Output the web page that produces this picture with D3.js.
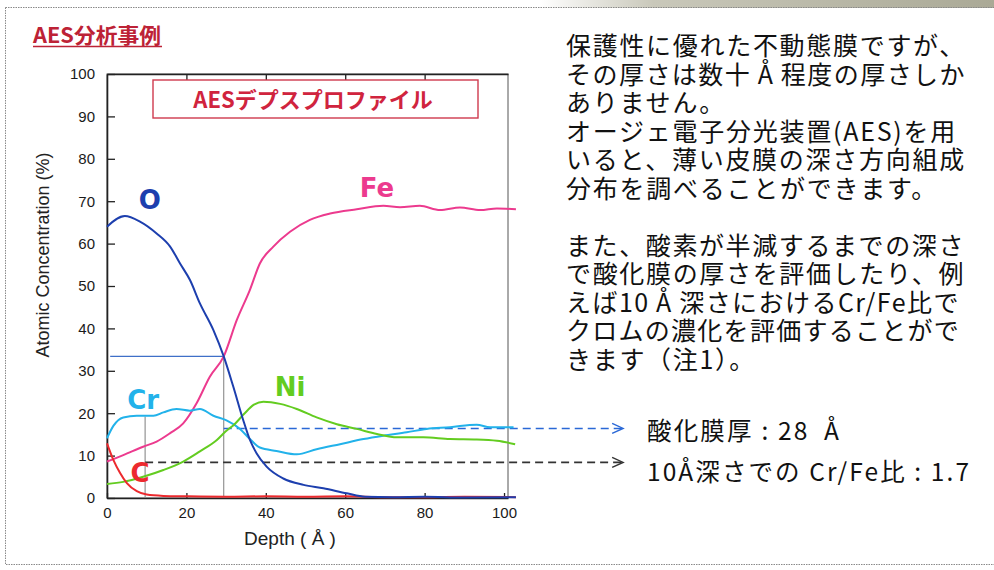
<!DOCTYPE html>
<html lang="ja">
<head>
<meta charset="utf-8">
<title>AES分析事例</title>
<script src="https://cdn.jsdelivr.net/npm/d3@7"></script>
<style>
  html, body { margin: 0; padding: 0; background: #fff; }
  #chart { position: relative; width: 994px; height: 570px; }
  svg { display: block; }
  .notes { position: absolute; left: 566px; top: 30px; color: #111;
           font-family: "Noto Sans CJK JP", "Noto Sans", sans-serif; font-size: 25px; }
  .notes div { height: 28.5px; line-height: 28.5px; white-space: nowrap; }
</style>
</head>
<body>
<div id="chart"></div>
<script>
// Depth (Å) and atomic concentration (%)
const depthO  = [0, 4.5, 8.3, 12.5, 15.9, 18.4, 20.9, 23.4, 26.8, 29.4, 31.8, 34.3, 36, 37.7, 40.2, 44.4, 49.5, 54.5, 60.4, 65, 72, 80, 90, 103];
const valueO  = [64, 66.5, 65.2, 62.4, 59.3, 55.3, 51.4, 45.9, 39.6, 33.4, 26.3, 18.4, 13.7, 10.5, 7.4, 4.6, 3.1, 2.3, 1.1, 0.3, 0.2, 0.3, 0.1, 0.2];

const depthFe = [0, 4.1, 9.1, 12.5, 15.9, 19.2, 22.6, 25.9, 29.4, 32.7, 36, 38.5, 41.9, 46.1, 51.1, 56.2, 62.9, 69.6, 73.8, 78.8, 83.9, 88.9, 94, 98.2, 103];
const valueFe = [8.6, 10.1, 12.1, 13.3, 15.3, 17.6, 22.4, 28.6, 33.4, 42, 49.1, 55.3, 59.3, 62.8, 65.6, 67.1, 68.1, 68.9, 68.6, 68.9, 67.9, 68.5, 67.9, 68.3, 68.1];

const depthCr = [0, 1.6, 4.1, 7.5, 11.7, 14.2, 17.5, 20.9, 23.4, 26.8, 30.1, 33.5, 36, 38.5, 42.7, 47.8, 52.8, 58.7, 64.6, 69.6, 75.5, 80.5, 86.4, 93.1, 96.5, 102.4];
const valueCr = [14.1, 17, 19, 19.4, 19.4, 20.2, 21, 20.6, 21, 19.4, 18.3, 16.3, 13.9, 11.9, 11.1, 10.3, 11.5, 12.7, 13.9, 14.7, 15.5, 16.3, 16.7, 17.3, 16.7, 16.7];

const depthNi = [0, 4.1, 9.1, 14.2, 19.2, 23.4, 27.6, 30, 32, 34.5, 37, 39.4, 43.6, 47.8, 52.8, 57.9, 62.9, 68, 73, 79.7, 86.4, 93.1, 98.2, 102.8];
const valueNi = [3.3, 3.8, 5, 6.6, 8.6, 11, 13.6, 15.8, 17.3, 19.8, 22, 22.7, 22.2, 21, 19, 17.4, 16.3, 15.1, 14.3, 14.3, 13.9, 13.8, 13.5, 12.7];

const depthC  = [0, 1.6, 3.3, 5, 7.5, 10, 14.2, 20, 30, 40, 50, 60, 70, 80, 90, 103];
const valueC  = [12.9, 9, 5.9, 3.5, 1.6, 0.8, 0.5, 0.4, 0.3, 0.4, 0.3, 0.4, 0.2, 0.2, 0.3, 0.2];

const seriesNames  = ['Fe', 'Cr', 'Ni', 'C', 'O'];
const seriesColors = ['#ec3a8e', '#22b2ea', '#63cc20', '#ec2a2e', '#1d3fae'];
// label anchor (depth, %) for each element name
const labelDepth = [68, 9.1, 46.1, 8.3, 10.8];
const labelValue = [73.1, 23.1, 26.2, 5.9, 70.3];

const yTicks = d3.range(0, 101, 10);
const xTicks = [0, 20, 40, 60, 80, 100];
const topTicks = [20, 40, 60, 80];

// evaluation markers
const halfODepth = 29.4;      // depth where O falls to half
const halfOValue = 33.4;
const ratioDepth = 9.6;       // 10 Å depth used for Cr/Fe
const ratioCrValue = 19.2;
const thicknessLevel = 16.4;  // blue dashed guide
const ratioLevel = 8.4;       // black dashed guide
const arrowEndDepth = 130;

const noteLines = [
  '保護性に優れた不動態膜ですが、',
  'その厚さは数十\u2009Å\u2009程度の厚さしか',
  'ありません。',
  'オージェ電子分光装置(AES)を用',
  'いると、薄い皮膜の深さ方向組成',
  '分布を調べることができます。',
  '',
  'また、酸素が半減するまでの深さ',
  'で酸化膜の厚さを評価したり、例',
  'えば10\u2009Å\u2009深さにおけるCr/Fe比で',
  'クロムの濃化を評価することがで',
  'きます（注1）。'
];
// line widths in the scan, px
const noteWidths = [400, 400, 160, 391, 400, 372, 0, 399, 399, 394, 394, 190];
const resultLines = ['酸化膜厚 : 28\u2002Å', '10Å深さでの Cr/Fe比 : 1.7'];
const resultWidths = [192, 322];

class AesDepthProfile {
  constructor(containerId) {
    this.containerId = containerId;
    this.width = 994;
    this.height = 570;
    this.x = d3.scaleLinear().domain([0, 101]).range([107, 508]);
    this.y = d3.scaleLinear().domain([0, 100]).range([498, 74]);
  }

  init() {
    this.container = d3.select(`#${this.containerId}`);
    this.svg = this.container
      .append('svg')
      .attr('width', this.width)
      .attr('height', this.height);

    const defs = this.svg.append('defs');
    const grad = defs.append('linearGradient').attr('id', 'scanEdge');
    grad.append('stop').attr('offset', '0%').attr('stop-color', '#fff');
    grad.append('stop').attr('offset', '25%').attr('stop-color', '#c9c8ba');
    grad.append('stop').attr('offset', '100%').attr('stop-color', '#aaa996');
  }

  render() {
    const { x, y, svg } = this;
    const jp = '"Noto Sans CJK JP", "Noto Sans", sans-serif';
    const arial = '"Liberation Sans", Arial, sans-serif';

    // scan edge + dotted frame
    svg.append('rect').attr('x', 540).attr('y', 0).attr('width', 454).attr('height', 8)
      .attr('fill', 'url(#scanEdge)');
    svg.append('rect').attr('x', 5.5).attr('y', 7.5).attr('width', 1000).attr('height', 557)
      .attr('fill', 'none').attr('stroke', '#8a8a8a').attr('stroke-width', 1)
      .attr('stroke-dasharray', '1.5,1');

    // heading
    svg.append('text').attr('x', 33).attr('y', 43)
      .attr('textLength', 128).attr('lengthAdjust', 'spacingAndGlyphs')
      .style('font-family', jp).style('font-size', '21px').style('font-weight', 700)
      .style('fill', '#bd2236').text('AES分析事例');
    svg.append('line').attr('x1', 33).attr('x2', 162).attr('y1', 46.5).attr('y2', 46.5)
      .attr('stroke', '#bd2236').attr('stroke-width', 1.6);

    // plot frame
    svg.append('rect')
      .attr('x', x(0)).attr('y', y(100))
      .attr('width', x(101) - x(0)).attr('height', y(0) - y(100))
      .attr('fill', 'none').attr('stroke', '#555').attr('stroke-width', 1);

    const yAxis = svg.append('g').attr('transform', `translate(${x(0)},0)`)
      .call(d3.axisLeft(y).tickValues(yTicks).tickSize(-8).tickSizeOuter(0).tickPadding(12));
    const xAxis = svg.append('g').attr('transform', `translate(0,${y(0)})`)
      .call(d3.axisBottom(x).tickValues(xTicks).tickSize(-5).tickSizeOuter(0).tickPadding(9));
    svg.append('g').attr('transform', `translate(0,${y(100)})`)
      .call(d3.axisTop(x).tickValues(topTicks).tickSize(-6).tickSizeOuter(0).tickFormat(''));

    svg.selectAll('.domain').attr('stroke', '#222').attr('stroke-width', 1.6);
    svg.selectAll('.tick line').attr('stroke', '#222').attr('stroke-width', 1.3);
    [yAxis, xAxis].forEach(g => g.selectAll('text')
      .style('font-family', arial)
      .style('font-size', '15px').style('fill', '#1a1a1a'));

    svg.append('text')
      .attr('transform', 'translate(49,255) rotate(-90)')
      .attr('text-anchor', 'middle')
      .style('font-family', arial)
      .style('font-size', '18px').style('fill', '#222')
      .text('Atomic Concentration (%)');
    svg.append('text').attr('x', 290).attr('y', 545).attr('text-anchor', 'middle')
      .style('font-family', arial)
      .style('font-size', '19px').style('fill', '#222')
      .text('Depth ( Å )');

    // inner title box
    svg.append('rect').attr('x', 153).attr('y', 80).attr('width', 325).attr('height', 38)
      .attr('fill', '#fff').attr('stroke', '#cf3a4e').attr('stroke-width', 1.4);
    svg.append('text').attr('x', 313).attr('y', 108).attr('text-anchor', 'middle')
      .style('font-family', jp).style('font-size', '22px').style('font-weight', 700)
      .style('fill', '#d0243e').text('AESデプスプロファイル');

    // guide lines
    const guides = svg.append('g');
    guides.append('line')
      .attr('x1', x(0.8)).attr('x2', x(halfODepth))
      .attr('y1', y(halfOValue)).attr('y2', y(halfOValue))
      .attr('stroke', '#3f6fc8').attr('stroke-width', 1.2);
    guides.append('line')
      .attr('x1', x(halfODepth)).attr('x2', x(halfODepth))
      .attr('y1', y(halfOValue)).attr('y2', y(0))
      .attr('stroke', '#8a8a8a').attr('stroke-width', 1.1);
    guides.append('line')
      .attr('x1', x(ratioDepth)).attr('x2', x(ratioDepth))
      .attr('y1', y(ratioCrValue)).attr('y2', y(0))
      .attr('stroke', '#8a8a8a').attr('stroke-width', 1.1);

    const dashed = [
      { from: halfODepth, level: thicknessLevel, color: '#2a68d6' },
      { from: ratioDepth, level: ratioLevel, color: '#333' }
    ];
    dashed.forEach(d => {
      guides.append('line')
        .attr('x1', x(d.from)).attr('x2', x(arrowEndDepth) - 1)
        .attr('y1', y(d.level)).attr('y2', y(d.level))
        .attr('stroke', d.color).attr('stroke-width', 1.6)
        .attr('stroke-dasharray', '8,5');
      const ax = x(arrowEndDepth), ay = y(d.level);
      guides.append('path')
        .attr('d', `M${ax - 11},${ay - 5}L${ax},${ay}L${ax - 11},${ay + 5}`)
        .attr('fill', 'none').attr('stroke', d.color).attr('stroke-width', 1.4);
    });

    // profiles
    const line = d3.line()
      .x(d => x(d[0]))
      .y(d => y(d[1]))
      .curve(d3.curveMonotoneX);
    const series = {
      Fe: d3.zip(depthFe, valueFe),
      Cr: d3.zip(depthCr, valueCr),
      Ni: d3.zip(depthNi, valueNi),
      C: d3.zip(depthC, valueC),
      O: d3.zip(depthO, valueO)
    };
    seriesNames.forEach((name, i) => {
      svg.append('path')
        .datum(series[name])
        .attr('d', line)
        .attr('fill', 'none')
        .attr('stroke', seriesColors[i])
        .attr('stroke-width', 2)
        .attr('stroke-linejoin', 'round');
      svg.append('text')
        .attr('x', x(labelDepth[i])).attr('y', y(labelValue[i]))
        .attr('text-anchor', 'middle').attr('dy', '0.36em')
        .style('font-family', '"DejaVu Sans", Verdana, sans-serif')
        .style('font-size', '26px').style('font-weight', 700)
        .style('fill', seriesColors[i])
        .text(name);
    });

    // explanation text (HTML so the tight line pitch of the scan is kept)
    const notes = this.container.append('div').attr('class', 'notes');
    notes.selectAll('div')
      .data(noteLines)
      .enter()
      .append('div')
      .text(d => d || '\u00a0')
      .each(function(d, i) {
        if (!d) return;
        const range = document.createRange();
        range.selectNodeContents(this);
        const natural = range.getBoundingClientRect().width;
        const spacing = (noteWidths[i] - natural) / [...d].length;
        this.style.letterSpacing = `${spacing.toFixed(2)}px`;
      });

    svg.append('g').selectAll('text')
      .data(resultLines)
      .enter()
      .append('text')
      .attr('x', 647)
      .attr('y', (d, i) => 440 + i * 41)
      .attr('textLength', (d, i) => resultWidths[i])
      .attr('lengthAdjust', 'spacing')
      .style('font-family', jp).style('font-size', '24.5px').style('fill', '#111')
      .text(d => d);
  }
}

const chart = new AesDepthProfile('chart');
chart.init();
chart.render();
</script>
</body>
</html>
